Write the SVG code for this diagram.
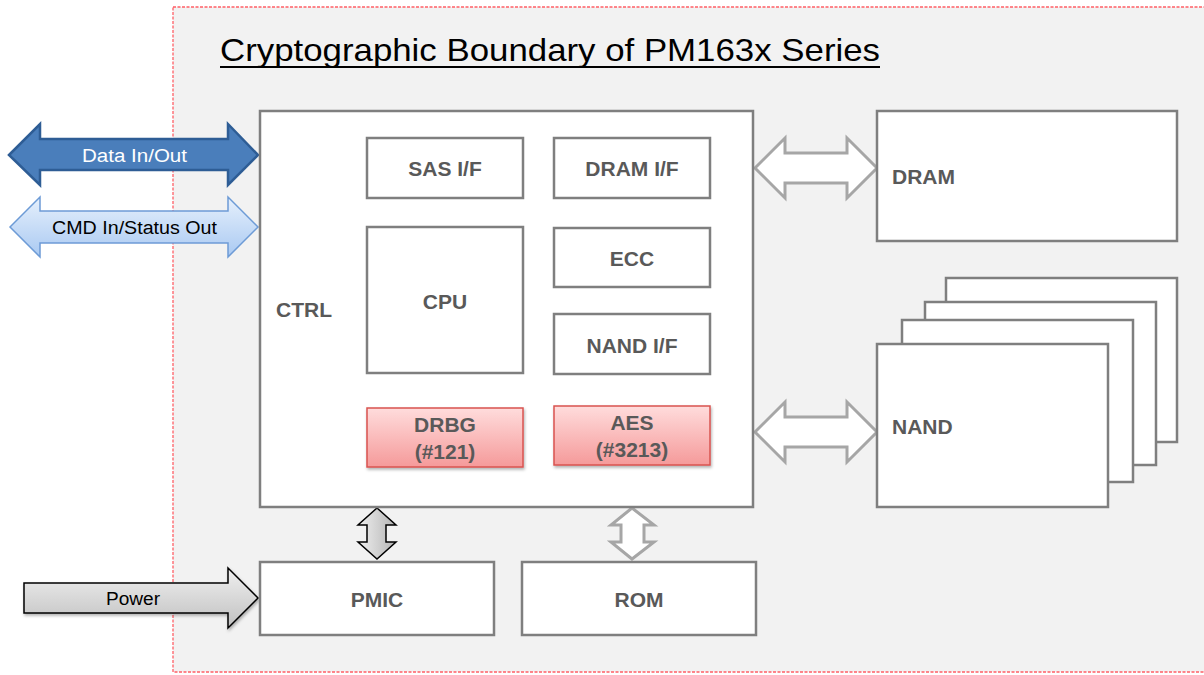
<svg xmlns="http://www.w3.org/2000/svg" width="1204" height="675" viewBox="0 0 1204 675">
<defs>
<linearGradient id="pink" x1="0" y1="0" x2="0" y2="1"><stop offset="0" stop-color="#ffdcdc"/><stop offset="1" stop-color="#f59a9a"/></linearGradient>
<linearGradient id="lblue" x1="0" y1="0" x2="0" y2="1"><stop offset="0" stop-color="#e6f0fc"/><stop offset="1" stop-color="#a9c9f2"/></linearGradient>
<linearGradient id="grey" x1="0" y1="0" x2="0" y2="1"><stop offset="0" stop-color="#f0f0f0"/><stop offset="1" stop-color="#c0c0c0"/></linearGradient>
<linearGradient id="greyh" x1="0" y1="0" x2="1" y2="0"><stop offset="0" stop-color="#f0f0f0"/><stop offset="1" stop-color="#b4b4b4"/></linearGradient>
<filter id="sh" x="-10%" y="-10%" width="130%" height="140%"><feDropShadow dx="1" dy="2" stdDeviation="1.5" flood-color="#000" flood-opacity="0.3"/></filter>
</defs>
<style>
.box{fill:#fff;stroke:#7f7f7f;stroke-width:2.5}
.red{fill:url(#pink);stroke:#d9534f;stroke-width:1.5}
.lbl{font-family:"Liberation Sans",Arial,sans-serif;font-weight:bold;font-size:21px;fill:#595959}
.arr{font-family:"Liberation Sans",Arial,sans-serif;font-size:18px}
.wa{fill:#fff;stroke:#a6a6a6;stroke-width:3;stroke-linejoin:miter}
</style>
<rect x="0" y="0" width="1204" height="675" fill="#fff"/>
<g id="boundary">
<rect x="173" y="7" width="1040" height="665" fill="#f2f2f2" stroke="#ff5f66" stroke-width="1.3" stroke-dasharray="3,1.5"/>
<text x="220" y="61" font-family="Liberation Sans,Arial,sans-serif" font-size="32" fill="#000" textLength="660" lengthAdjust="spacingAndGlyphs">Cryptographic Boundary of PM163x Series</text>
<line x1="220" y1="67" x2="880" y2="67" stroke="#000" stroke-width="2"/>
</g>
<g id="connectors">
<path class="wa" d="M755,168 L785,138 L785,153 L847,153 L847,138 L877,168 L847,198 L847,183 L785,183 L785,198 Z"/>
<path class="wa" d="M755,432 L785,402 L785,417 L847,417 L847,402 L877,432 L847,462 L847,447 L785,447 L785,462 Z"/>
<path d="M9,155 L40,124 L40,139 L228,139 L228,124 L258,155 L228,185 L228,170 L40,170 L40,185 Z" fill="#4a7ebb" stroke="#2e5d95" stroke-width="2.5"/>
<text class="arr" x="82" y="162" fill="#fff" textLength="105" lengthAdjust="spacingAndGlyphs">Data In/Out</text>
<path d="M10,227 L40,197 L40,211 L228,211 L228,197 L258,227 L228,257 L228,243 L40,243 L40,257 Z" fill="url(#lblue)" stroke="#6d9bd6" stroke-width="1.5"/>
<text class="arr" x="52" y="234" fill="#000" textLength="165" lengthAdjust="spacingAndGlyphs">CMD In/Status Out</text>
<path d="M24,583 L228,583 L228,568 L258,598 L228,628 L228,613 L24,613 Z" fill="url(#grey)" stroke="#000" stroke-width="1.5" filter="url(#sh)"/>
<text class="arr" x="106" y="605" fill="#000" textLength="54" lengthAdjust="spacingAndGlyphs">Power</text>
<path d="M377,508 L396,525 L386,525 L386,542 L396,542 L377,559 L358,542 L367,542 L367,525 L358,525 Z" fill="url(#greyh)" stroke="#000" stroke-width="1.5"/>
<path class="wa" d="M632,508 L654,525 L644,525 L644,542 L654,542 L632,559 L611,542 L621,542 L621,525 L611,525 Z"/>
</g>
<g id="ctrl">
<rect class="box" x="260" y="111" width="493" height="396"/>
<text class="lbl" x="276" y="317">CTRL</text>
</g>
<g id="sas"><rect class="box" x="367" y="138" width="156" height="60"/><text class="lbl" x="445" y="176" text-anchor="middle">SAS I/F</text></g>
<g id="dramif"><rect class="box" x="554" y="138" width="156" height="60"/><text class="lbl" x="632" y="176" text-anchor="middle">DRAM I/F</text></g>
<g id="cpu"><rect class="box" x="367" y="227" width="156" height="146"/><text class="lbl" x="445" y="309" text-anchor="middle">CPU</text></g>
<g id="ecc"><rect class="box" x="554" y="228" width="156" height="59"/><text class="lbl" x="632" y="266" text-anchor="middle">ECC</text></g>
<g id="nandif"><rect class="box" x="554" y="314" width="156" height="60"/><text class="lbl" x="632" y="353" text-anchor="middle">NAND I/F</text></g>
<g id="drbg"><rect class="red" x="367" y="408" width="156" height="59" filter="url(#sh)"/><text class="lbl" x="445" y="432" text-anchor="middle">DRBG</text><text class="lbl" x="445" y="459" text-anchor="middle">(#121)</text></g>
<g id="aes"><rect class="red" x="554" y="406" width="156" height="59" filter="url(#sh)"/><text class="lbl" x="632" y="430" text-anchor="middle">AES</text><text class="lbl" x="632" y="457" text-anchor="middle">(#3213)</text></g>
<g id="dram"><rect class="box" x="877" y="111" width="300" height="130"/><text class="lbl" x="892" y="184">DRAM</text></g>
<g id="nand">
<rect class="box" x="946" y="278" width="231" height="164"/>
<rect class="box" x="925" y="302" width="231" height="163"/>
<rect class="box" x="902" y="320" width="231" height="162"/>
<rect class="box" x="877" y="344" width="231" height="163"/>
<text class="lbl" x="892" y="434">NAND</text>
</g>
<g id="pmic"><rect class="box" x="260" y="562" width="234" height="73"/><text class="lbl" x="377" y="607" text-anchor="middle">PMIC</text></g>
<g id="rom"><rect class="box" x="522" y="562" width="234" height="73"/><text class="lbl" x="639" y="607" text-anchor="middle">ROM</text></g>
</svg>
